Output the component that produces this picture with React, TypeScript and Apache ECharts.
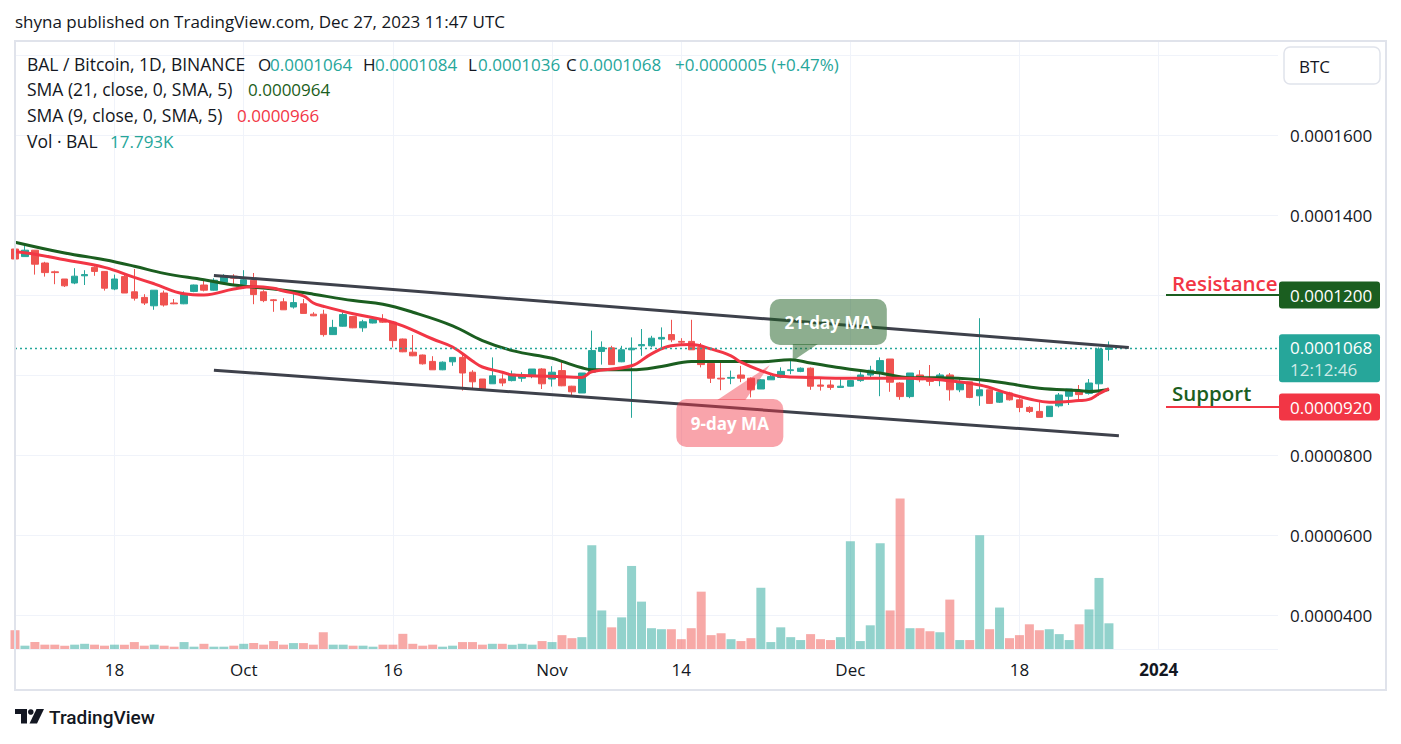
import React, { useEffect, useRef } from "react";
import * as echarts from "echarts";

// ---------- data (prices in units of 1e-7 BTC) ----------
const FIRST_DAY = [2023, 8, 8]; // 2023-09-08 (month is 0-based)
const AXIS_DAYS = 128; // Sep 8 2023 .. Jan 13 2024 on the time scale

const opens = [
  1315, 1296, 1312, 1280, 1258, 1240, 1230, 1248, 1269, 1259,
  1215, 1246, 1208, 1194, 1173, 1205, 1180, 1178, 1209, 1225,
  1212, 1232, 1247, 1226, 1237, 1208, 1188, 1183, 1170, 1178,
  1152, 1152, 1101, 1122, 1146, 1118, 1130, 1140, 1132, 1090,
  1057, 1050, 1034, 1013, 1033, 1044, 1007, 990, 978, 990,
  986, 992, 997, 1015, 990, 1011, 972, 955, 1007, 1059,
  1068, 1033, 1063, 1073, 1073, 1090, 1101, 1084, 1084, 1069,
  1029, 992, 992, 1000, 992, 965, 988, 994, 1011, 1009,
  1017, 975, 975, 969, 972, 986, 1000, 1008, 1040, 980,
  946, 1000, 990, 988, 1000, 963, 983, 948, 963, 932,
  955, 938, 919, 909, 896, 923, 947, 961, 954, 978,
  1064,
];
const closes = [
  1290, 1312, 1277, 1256, 1256, 1223, 1247, 1251, 1259, 1217,
  1240, 1205, 1192, 1180, 1212, 1175, 1178, 1201, 1225, 1212,
  1237, 1248, 1242, 1238, 1201, 1186, 1186, 1163, 1181, 1154,
  1148, 1101, 1119, 1151, 1118, 1133, 1140, 1132, 1086, 1058,
  1048, 1028, 1013, 1032, 1044, 1005, 983, 965, 998, 980,
  1002, 1000, 1015, 978, 1007, 973, 958, 1005, 1061, 1069,
  1026, 1063, 1067, 1076, 1092, 1094, 1088, 1082, 1063, 1026,
  992, 990, 994, 992, 963, 988, 996, 1009, 1013, 1017,
  972, 972, 969, 972, 986, 1000, 1012, 1036, 982, 946,
  1005, 988, 984, 1000, 963, 980, 944, 963, 929, 957,
  938, 919, 909, 894, 922, 950, 965, 951, 980, 1065,
  1068,
];
const lows = [
  1285, 1296, 1251, 1246, 1227, 1220, 1227, 1225, 1248, 1211,
  1212, 1205, 1186, 1175, 1163, 1171, 1177, 1177, 1207, 1209,
  1211, 1230, 1227, 1223, 1177, 1182, 1158, 1163, 1166, 1154,
  1147, 1096, 1100, 1121, 1117, 1108, 1129, 1130, 1069, 1057,
  1047, 1026, 1013, 1012, 1023, 961, 967, 963, 978, 972,
  984, 983, 992, 965, 971, 972, 947, 955, 1007, 1026,
  1026, 1032, 893, 1048, 1069, 1069, 1082, 1076, 1063, 1019,
  980, 962, 977, 982, 944, 965, 988, 992, 1002, 1007,
  963, 961, 963, 969, 971, 983, 990, 947, 958, 938,
  942, 982, 973, 972, 936, 957, 942, 923, 928, 930,
  936, 907, 905, 893, 896, 919, 925, 938, 951, 948,
  1036,
];
const highs = [
  1320, 1327, 1312, 1283, 1261, 1240, 1267, 1262, 1272, 1260,
  1251, 1251, 1265, 1202, 1212, 1211, 1190, 1209, 1226, 1237,
  1242, 1252, 1252, 1262, 1255, 1212, 1190, 1192, 1212, 1190,
  1157, 1163, 1138, 1157, 1147, 1138, 1142, 1152, 1133, 1091,
  1100, 1051, 1047, 1034, 1045, 1057, 1012, 990, 1044, 1002,
  1011, 1007, 1015, 1017, 1022, 1032, 973, 1005, 1111, 1084,
  1073, 1073, 1094, 1115, 1098, 1119, 1138, 1092, 1138, 1080,
  1029, 1032, 1011, 1023, 994, 990, 1000, 1019, 1036, 1019,
  1019, 990, 987, 990, 988, 1007, 1023, 1044, 1040, 982,
  1005, 1012, 1025, 1005, 1005, 992, 983, 1142, 963, 958,
  958, 942, 922, 932, 922, 955, 965, 975, 990, 1069,
  1084,
];
// volume in thousands of BAL
const volumesK = [
  13.0, 2.3, 4.8, 3.0, 3.0, 2.3, 3.0, 3.6, 3.0, 2.3,
  3.0, 3.0, 4.8, 2.3, 3.0, 2.3, 1.6, 4.8, 1.6, 3.6,
  1.6, 1.6, 2.3, 3.6, 4.1, 3.0, 5.5, 3.0, 4.1, 4.1,
  3.0, 11.6, 3.0, 3.0, 2.3, 2.3, 1.6, 3.0, 3.0, 10.5,
  3.6, 2.3, 3.0, 1.6, 2.3, 4.8, 4.8, 3.0, 3.6, 3.6,
  3.0, 3.6, 3.0, 5.5, 4.8, 9.6, 7.5, 8.2, 71.8, 26.7,
  15.0, 21.9, 57.5, 32.8, 14.4, 13.7, 13.7, 6.8, 14.4, 39.7,
  9.6, 10.9, 6.8, 5.5, 7.5, 42.4, 4.8, 15.0, 8.2, 6.2,
  10.3, 6.8, 6.2, 8.2, 74.6, 5.5, 16.4, 73.2, 26.7, 104.2,
  14.4, 14.4, 12.3, 11.6, 34.2, 6.2, 6.2, 78.7, 13.7, 28.7,
  7.5, 9.6, 17.1, 13.0, 13.7, 10.3, 6.2, 17.1, 27.4, 49.2,
  17.793,
];

// moving averages (day index from Sep 8)
const sma21Days = [0, 5, 9, 12, 15, 19, 22, 26, 29, 30, 34, 37, 40, 44, 47, 50, 54, 55, 57, 58, 62, 65, 68, 72, 75, 78, 80, 83, 85, 87, 90, 93, 97, 100, 103, 107, 108, 110];
const sma21Values = [1332, 1305, 1288, 1272, 1254, 1238, 1225, 1215, 1206, 1202, 1186, 1177, 1157, 1123, 1086, 1061, 1042, 1034, 1018, 1013, 1013, 1021, 1034, 1034, 1033, 1038, 1030, 1018, 1011, 1005, 993, 993, 988, 978, 967, 961, 959, 964];
const sma9Days = [0, 2, 5, 9, 12, 14, 17, 19, 22, 24, 26, 27, 29, 30, 31, 34, 37, 39, 42, 44, 46, 47, 49, 50, 54, 57, 58, 62, 64, 66, 68, 70, 72, 73, 75, 77, 80, 83, 87, 90, 93, 97, 100, 102, 104, 107, 108, 109, 110];
const sma9Values = [1308, 1302, 1288, 1269, 1244, 1228, 1203, 1200, 1215, 1221, 1217, 1210, 1198, 1180, 1172, 1153, 1138, 1123, 1090, 1070, 1035, 1020, 1007, 1000, 997, 994, 1008, 1023, 1053, 1073, 1076, 1065, 1048, 1032, 1011, 997, 994, 992, 992, 992, 988, 975, 953, 940, 932, 936, 939, 953, 966];

// channel drawn on the chart
const upperChannelDays = [20, 112];
const upperChannelValues = [1249, 1069];
const lowerChannelDays = [20, 111];
const lowerChannelValues = [1012, 848];

const resistancePrice = 1200;
const supportPrice = 920;

const tickDates = ["2023-09-18", "2023-10-01", "2023-10-16", "2023-11-01", "2023-11-14", "2023-12-01", "2023-12-18", "2024-01-01"];
const tickLabels = ["18", "Oct", "16", "Nov", "14", "Dec", "18", "2024"];
const hiddenPriceTicks = [1800, 1200, 1000];

// ---------- styling ----------
const FONT = "'Open Sans', sans-serif";
const TEXT = "#131722";
const UP = "#26a69a";
const DOWN = "#ef5350";
const MA21 = "#1b5e20";
const MA9 = "#f23645";
const GRID = "#f0f3fa";

function pad(n: number) {
  return n < 10 ? "0" + n : "" + n;
}
const categories: string[] = [];
for (let i = 0; i < AXIS_DAYS; i++) {
  const d = new Date(Date.UTC(FIRST_DAY[0], FIRST_DAY[1], FIRST_DAY[2] + i));
  categories.push(d.getUTCFullYear() + "-" + pad(d.getUTCMonth() + 1) + "-" + pad(d.getUTCDate()));
}

const fmtPrice = (v: number) => (v / 1e7).toFixed(7);

function buildOption() {
  const candleData = opens.map((o, i) => [o, closes[i], lows[i], highs[i]]);
  const volData = volumesK.map((v, i) => ({
    value: v,
    itemStyle: { color: closes[i] >= opens[i] ? "rgba(38,166,154,0.5)" : "rgba(239,83,80,0.5)" },
  }));
  const isTick = (_idx: number, value: string) => tickDates.indexOf(value) >= 0;
  const lastClose = closes[closes.length - 1];
  return {
    animation: false,
    backgroundColor: "#ffffff",
    grid: { left: 15, right: 123, top: 41, bottom: 95, containLabel: false },
    xAxis: {
      type: "category",
      data: categories,
      boundaryGap: false,
      axisLine: { show: false },
      axisTick: { show: false },
      axisLabel: {
        interval: isTick,
        formatter: (value: string) => {
          const i = tickDates.indexOf(value);
          const t = i >= 0 ? tickLabels[i] : "";
          return t === "2024" ? "{b|" + t + "}" : t;
        },
        color: TEXT,
        fontSize: 17,
        fontFamily: FONT,
        margin: 12,
        rich: { b: { fontWeight: "bold", fontSize: 17, fontFamily: FONT, color: TEXT } },
      },
      splitLine: { show: true, interval: isTick, lineStyle: { color: GRID, width: 1 } },
    },
    yAxis: [
      {
        type: "value",
        position: "right",
        min: 315,
        max: 1835,
        splitNumber: 8,
        axisLine: { show: false },
        axisTick: { show: false },
        axisLabel: {
          showMinLabel: false,
          showMaxLabel: false,
          formatter: (v: number) => (hiddenPriceTicks.indexOf(Math.round(v)) >= 0 ? "" : fmtPrice(v)),
          color: TEXT,
          fontSize: 17,
          fontFamily: FONT,
          margin: 12,
        },
        splitLine: { show: true, lineStyle: { color: GRID, width: 1 } },
      },
      { type: "value", min: 0, max: 421, show: false, splitLine: { show: false } },
    ],
    series: [
      { type: "bar", yAxisIndex: 1, data: volData, barWidth: 9, z: 1, silent: true },
      {
        type: "candlestick",
        data: candleData,
        barWidth: 7,
        z: 3,
        silent: true,
        itemStyle: { color: UP, color0: DOWN, borderColor: UP, borderColor0: DOWN, borderWidth: 1 },
        markLine: {
          silent: true,
          symbol: ["none", "none"],
          label: { show: false },
          lineStyle: { type: [2, 3], color: UP, width: 1.3, opacity: 1 },
          data: [{ yAxis: lastClose, lineStyle: { type: [2, 3], color: UP, width: 1.3 } }],
        },
      },
      {
        type: "line",
        data: sma21Days.map((d, i) => [d, sma21Values[i]]),
        smooth: 0.4,
        showSymbol: false,
        silent: true,
        z: 4,
        lineStyle: { color: MA21, width: 3 },
      },
      {
        type: "line",
        data: sma9Days.map((d, i) => [d, sma9Values[i]]),
        smooth: 0.4,
        showSymbol: false,
        silent: true,
        z: 4,
        lineStyle: { color: MA9, width: 3 },
      },
      {
        type: "line",
        data: upperChannelDays.map((d, i) => [d, upperChannelValues[i]]),
        showSymbol: false,
        silent: true,
        z: 5,
        lineStyle: { color: "#3e414b", width: 3 },
      },
      {
        type: "line",
        data: lowerChannelDays.map((d, i) => [d, lowerChannelValues[i]]),
        showSymbol: false,
        silent: true,
        z: 5,
        lineStyle: { color: "#3e414b", width: 3 },
      },
    ],
  };
}

function txt(text: string, x: number, y: number, opts: any = {}) {
  const align = opts.align || "left";
  return {
    type: "text",
    z: 110,
    silent: true,
    style: {
      text,
      x,
      y,
      fill: opts.fill || TEXT,
      fontSize: opts.fontSize || 17,
      fontFamily: opts.fontFamily || FONT,
      fontWeight: opts.fontWeight || "normal",
      align,
      textAlign: align,
      verticalAlign: "middle",
      textVerticalAlign: "middle",
    },
  };
}

function buildGraphic(chart: any) {
  const xFirst = chart.convertToPixel({ xAxisIndex: 0 }, categories[0]);
  const xLast = chart.convertToPixel({ xAxisIndex: 0 }, categories[categories.length - 1]);
  const xOf = (d: number) => xFirst + ((xLast - xFirst) * d) / (categories.length - 1);
  const yOf = (p: number) => chart.convertToPixel({ yAxisIndex: 0 }, p);

  const lastClose = closes[closes.length - 1];
  const yRes = yOf(resistancePrice);
  const ySup = yOf(supportPrice);
  const yCur = yOf(lastClose);
  const boxX = xLast + 1;
  const boxW = 101;

  const g: any[] = [];
  // frame
  g.push({
    type: "rect",
    z: 100,
    silent: true,
    shape: { x: 15, y: 41, width: 1371, height: 649 },
    style: { fill: "none", stroke: "#e0e3eb", lineWidth: 2 },
  });
  // header
  g.push(txt("shyna published on TradingView.com, Dec 27, 2023 11:47 UTC", 15, 21, { fontSize: 17 }));
  // legend
  g.push(txt("BAL / Bitcoin, 1D, BINANCE", 27, 64, { fontSize: 17.5 }));
  g.push(txt("O", 258, 64));
  g.push(txt(fmtPrice(opens[opens.length - 1]), 270, 64, { fill: UP }));
  g.push(txt("H", 363, 64));
  g.push(txt(fmtPrice(highs[highs.length - 1]), 375, 64, { fill: UP }));
  g.push(txt("L", 468, 64));
  g.push(txt(fmtPrice(lows[lows.length - 1]), 478, 64, { fill: UP }));
  g.push(txt("C", 566, 64));
  g.push(txt(fmtPrice(lastClose), 579, 64, { fill: UP }));
  g.push(txt("+0.0000005 (+0.47%)", 675, 64, { fill: UP }));
  g.push(txt("SMA (21, close, 0, SMA, 5)", 27, 89, { fontSize: 17.5 }));
  g.push(txt(fmtPrice(sma21Values[sma21Values.length - 1]), 248, 89, { fill: MA21 }));
  g.push(txt("SMA (9, close, 0, SMA, 5)", 27, 115, { fontSize: 17.5 }));
  g.push(txt(fmtPrice(sma9Values[sma9Values.length - 1]), 237, 115, { fill: MA9 }));
  g.push(txt("Vol \u00b7 BAL", 27, 141, { fontSize: 17.5 }));
  g.push(txt(volumesK[volumesK.length - 1].toFixed(3) + "K", 110, 141, { fill: UP }));

  // currency button
  g.push({
    type: "rect",
    z: 100,
    silent: true,
    shape: { x: 1284, y: 47, width: 96, height: 37, r: 6 },
    style: { fill: "#ffffff", stroke: "#e0e3eb", lineWidth: 1.5 },
  });
  g.push(txt("BTC", 1299, 66));

  // resistance
  g.push({
    type: "line",
    z: 105,
    silent: true,
    shape: { x1: 1166, y1: yRes, x2: boxX, y2: yRes },
    style: { stroke: MA21, lineWidth: 2 },
  });
  g.push(txt("Resistance", 1172, yRes - 12, { fill: MA9, fontSize: 20.5, fontWeight: 600 }));
  g.push({
    type: "rect",
    z: 106,
    silent: true,
    shape: { x: boxX, y: yRes - 13.5, width: boxW, height: 27, r: 3 },
    style: { fill: MA21 },
  });
  g.push(txt(fmtPrice(resistancePrice), 1290, yRes, { fill: "#ffffff" }));

  // current price
  g.push({
    type: "rect",
    z: 106,
    silent: true,
    shape: { x: boxX, y: yCur - 13.5, width: boxW, height: 48, r: 3 },
    style: { fill: UP },
  });
  g.push(txt(fmtPrice(lastClose), 1290, yCur, { fill: "#ffffff" }));
  g.push(txt("12:12:46", 1290, yCur + 21.5, { fill: "rgba(255,255,255,0.78)" }));

  // support
  g.push({
    type: "line",
    z: 105,
    silent: true,
    shape: { x1: 1166, y1: ySup, x2: boxX, y2: ySup },
    style: { stroke: MA9, lineWidth: 2 },
  });
  g.push(txt("Support", 1172, ySup - 14, { fill: MA21, fontSize: 20.5, fontWeight: 600 }));
  g.push({
    type: "rect",
    z: 106,
    silent: true,
    shape: { x: boxX, y: ySup - 13.5, width: boxW, height: 27, r: 3 },
    style: { fill: MA9 },
  });
  g.push(txt(fmtPrice(supportPrice), 1290, ySup, { fill: "#ffffff" }));

  // 21-day MA callout (anchored in data space)
  {
    const bx = xOf(75.9);
    const by = yOf(1190);
    const w = 117;
    const h = 46;
    const tipX = xOf(78.2);
    const tipY = yOf(1035);
    g.push({
      type: "polygon",
      z: 107,
      silent: true,
      shape: { points: [[bx + 23, by + h - 1], [bx + 48, by + h - 1], [tipX, tipY]] },
      style: { fill: "rgba(27,94,32,0.5)" },
    });
    g.push({
      type: "rect",
      z: 107,
      silent: true,
      shape: { x: bx, y: by, width: w, height: h, r: 10 },
      style: { fill: "rgba(27,94,32,0.5)" },
    });
    g.push(txt("21-day MA", bx + w / 2, by + h / 2, { fill: "#ffffff", fontWeight: "bold", fontSize: 17, align: "center" }));
  }
  // 9-day MA callout
  {
    const bx = xOf(66.5);
    const by = yOf(940);
    const w = 107;
    const h = 48;
    const tipX = xOf(75.9);
    const tipY = yOf(1025);
    g.push({
      type: "polygon",
      z: 107,
      silent: true,
      shape: { points: [[bx + 41, by + 1], [bx + 69, by + 1], [tipX, tipY]] },
      style: { fill: "rgba(242,54,69,0.45)" },
    });
    g.push({
      type: "rect",
      z: 107,
      silent: true,
      shape: { x: bx, y: by, width: w, height: h, r: 10 },
      style: { fill: "rgba(242,54,69,0.45)" },
    });
    g.push(txt("9-day MA", bx + w / 2, by + h / 2, { fill: "#ffffff", fontWeight: "bold", fontSize: 17, align: "center" }));
  }

  // TradingView logo
  g.push({ type: "rect", z: 110, silent: true, shape: { x: 15, y: 709, width: 12, height: 5 }, style: { fill: TEXT } });
  g.push({ type: "rect", z: 110, silent: true, shape: { x: 21, y: 709, width: 6, height: 14.5 }, style: { fill: TEXT } });
  g.push({ type: "circle", z: 110, silent: true, shape: { cx: 30.8, cy: 712, r: 2.8 }, style: { fill: TEXT } });
  g.push({
    type: "polygon",
    z: 110,
    silent: true,
    shape: { points: [[36.5, 709], [44, 709], [37, 723.5], [29.5, 723.5]] },
    style: { fill: TEXT },
  });
  g.push(txt("TradingView", 49, 717, { fontSize: 19, fontWeight: 500, fontFamily: "Roboto, sans-serif" }));
  return g;
}

export default function App() {
  const ref = useRef<HTMLDivElement>(null);
  useEffect(() => {
    if (!ref.current) return;
    const chart = echarts.init(ref.current, undefined, { renderer: "svg" });
    chart.setOption(buildOption() as any);
    chart.setOption({ graphic: buildGraphic(chart) } as any);
    return () => {
      chart.dispose();
    };
  }, []);
  return (
    <div
      ref={ref}
      style={{ position: "fixed", left: 0, top: 0, width: 1401, height: 744, background: "#ffffff" }}
    />
  );
}
